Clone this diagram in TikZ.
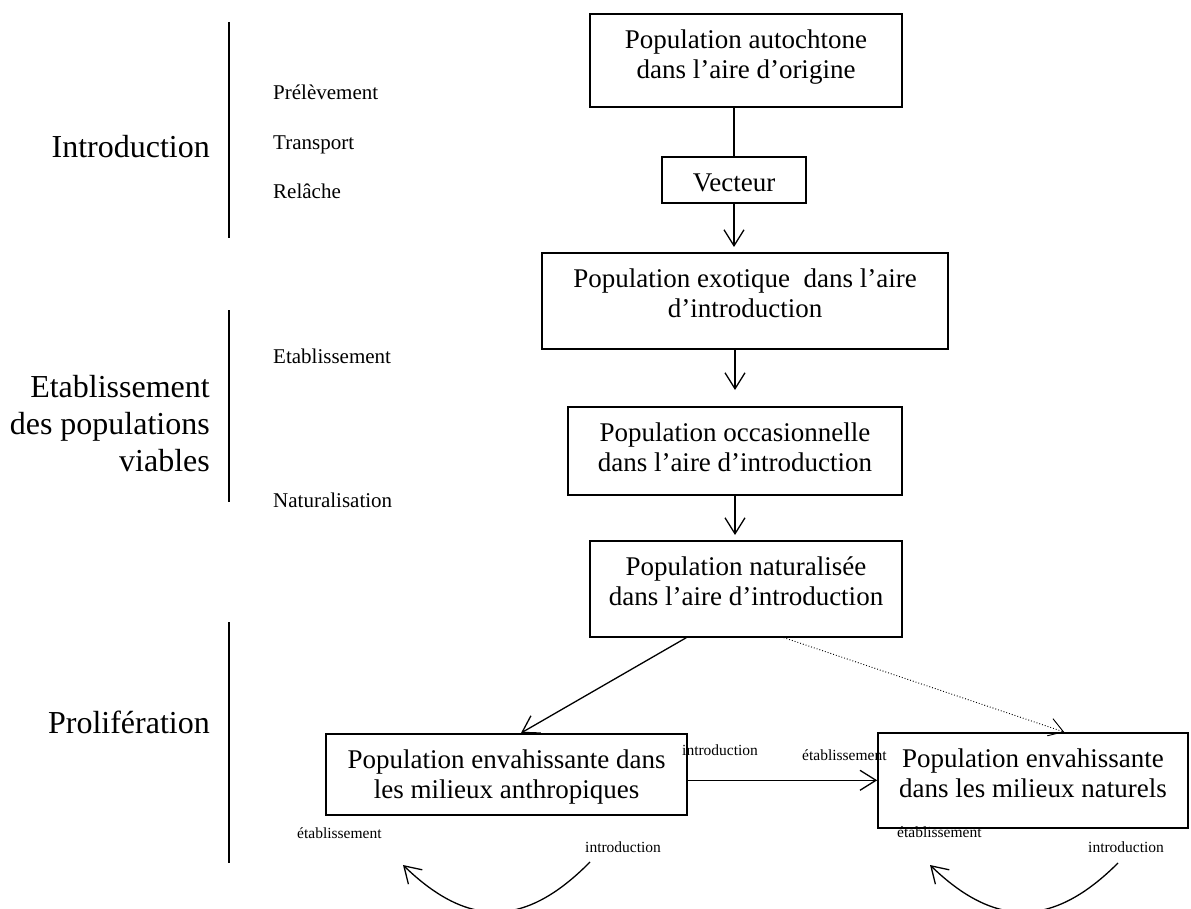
\documentclass[tikz,border=0pt]{standalone}
\usepackage{fontspec}
\setmainfont{Liberation Serif}
\usetikzlibrary{calc,arrows.meta,positioning}
\newcommand\boxtop{\rule{0pt}{34.5pt}}
\tikzset{
     popbox/.style={draw, line width=1.6pt, align=center, inner sep=0pt, anchor=north,
       font=\fontsize{27}{30.5}\selectfont},
     boxdepth/.style={execute at end node={\rule[-#1]{0pt}{#1}}},
     phase label/.style={align=right, inner sep=0pt, font=\fontsize{32}{37}\selectfont},
     stage label/.style={inner sep=0pt, anchor=base west, font=\fontsize{21}{24}\selectfont},
     edge label/.style={inner sep=0pt, anchor=base west, font=\fontsize{15.5}{18}\selectfont},
     flow/.style={black, line width=1.3pt, -{Straight Barb[length=16pt,width=20pt]}},
     weakflow/.style={black, line width=0.9pt, dotted, -{Straight Barb[length=14pt,width=18pt]}},
     divider/.style={black, line width=1.8pt},
    }

\begin{document}
\begin{tikzpicture}[x=1pt,y=-1pt]
        \clip (0,0) rectangle (1191,909);

        % phases, left column
        \node [phase label, anchor=base east] (intro)  at (210,158) {Introduction};
        \node [phase label, anchor=east]      (estab)  at (210,424) {Etablissement\\des populations\\viables};
        \node [phase label, anchor=base east] (prolif) at (210,733) {Prolifération};
        \draw [divider] (229,22) -- (229,238);
        \draw [divider] (229,310) -- (229,502);
        \draw [divider] (229,622) -- (229,863);

        \node [stage label] (prelev) at (273,100) {Prélèvement};
        \node [stage label] (transp) at (273,150) {Transport};
        \node [stage label] (relach) at (273,199) {Relâche};
        \node [stage label] (etab)   at (273,363) {Etablissement};
        \node [stage label] (natlab) at (273,507) {Naturalisation};

        % populations
        \node [popbox, boxdepth=28pt, minimum width=312pt] (auto)  at (746,13)  {\boxtop Population autochtone\\dans l’aire d’origine};
        \node [popbox, boxdepth=12pt, minimum width=144pt] (vect)  at (734,156) {\boxtop Vecteur};
        \node [popbox, boxdepth=31pt, minimum width=406pt] (exot)  at (745,252) {\boxtop Population exotique\ \ dans l’aire\\d’introduction};
        \node [popbox, boxdepth=23pt, minimum width=334pt] (occas) at (735,406) {\boxtop Population occasionnelle\\dans l’aire d’introduction};
        \node [popbox, boxdepth=31pt, minimum width=312pt] (natur) at (746,540) {\boxtop Population naturalisée\\dans l’aire d’introduction};
        \node [popbox, boxdepth=16pt, minimum width=361pt] (anthro) at (506.5,733) {\boxtop Population envahissante dans\\les milieux anthropiques};
        \node [popbox, boxdepth=30pt, minimum width=310pt] (milnat) at (1033,732) {\boxtop Population envahissante\\dans les milieux naturels};

        \draw [line width=1.3pt] (vect.north |- auto.south) -- (vect.north);
        \path [flow]
        (vect.south) edge [shorten >=5pt] (vect.south |- exot.north)
        (occas.north |- exot.south) edge [shorten >=16pt] (occas.north)
        (occas.south) edge [shorten >=5pt] (occas.south |- natur.north);

        \draw [flow] ($(natur.south west)!0.31!(natur.south east)$) -- ($(anthro.north west)!0.54!(anthro.north east)$);
        \draw [weakflow] ($(natur.south west)!0.62!(natur.south east)$) -- ($(milnat.north west)!0.6!(milnat.north east)$);

        \coordinate (hz) at ($(anthro.east)+(0,6)$);
        \draw [flow] (hz) -- (hz -| milnat.west);
        \node [edge label] (hzintro) at (682,755) {introduction};
        \node [edge label] (hzetab)  at (802,760) {établissement};

        % loops under the invasive populations
        \coordinate (loopa) at (590,862);
        \coordinate (loopb) at (403,865);
        \draw [flow] (loopa) .. controls (525,928) and (468,928) .. (loopb);
        \node [edge label] (aetab)  at (297,838) {établissement};
        \node [edge label] (aintro) at (585,852) {introduction};

        \coordinate (loopc) at (1118,863);
        \coordinate (loopd) at (930,865);
        \draw [flow] (loopc) .. controls (1053,928) and (995,928) .. (loopd);
        \node [edge label] (betab)  at (897,837) {établissement};
        \node [edge label] (bintro) at (1088,852) {introduction};
\end{tikzpicture}
\end{document}
